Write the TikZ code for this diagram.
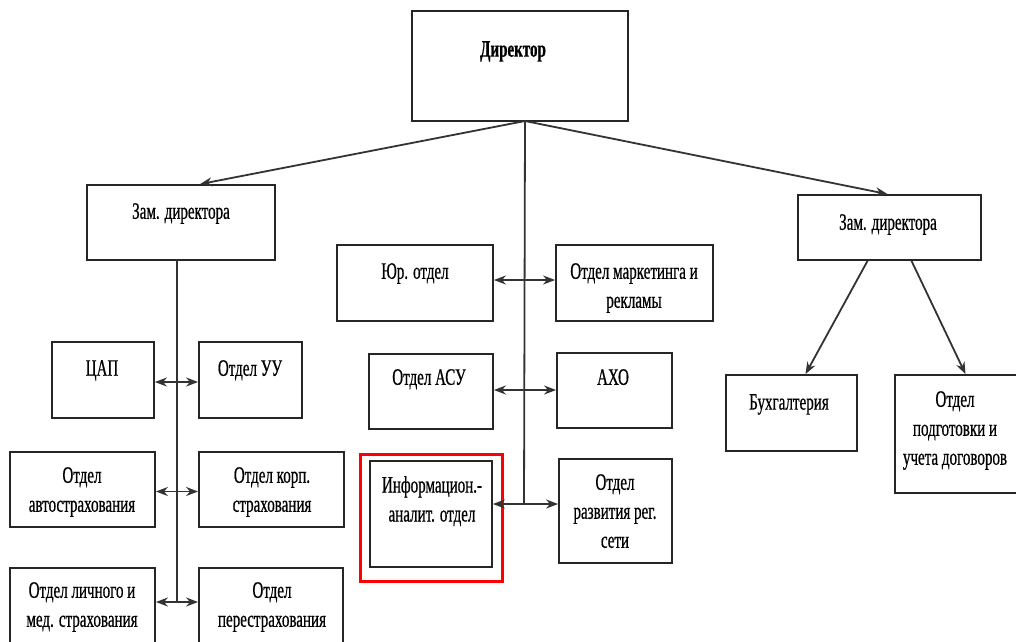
\documentclass[tikz,border=0pt]{standalone}
\usepackage{fontspec}
\setmainfont{Liberation Serif}[FakeStretch=0.64,FakeBold=0.6]
\usetikzlibrary{arrows.meta}
\begin{document}
\begin{tikzpicture}[x=1pt,y=-1pt,
  box/.style={draw=black!85,line width=1.8pt,minimum width=#1,inner sep=0pt},
  lbl/.style={align=center,font=\fontsize{23.5}{29}\selectfont,inner sep=0pt,anchor=north},
  conn/.style={draw=black!80,line width=1.8pt},
  arr/.style={conn,-{Stealth[length=12pt,width=9pt]}},
  dbl/.style={conn,{Stealth[length=12pt,width=9pt]}-{Stealth[length=12pt,width=9pt]}}]
\useasboundingbox (0,0) rectangle (1016,641);
\clip (0,0) rectangle (1016,641);
% boxes
\node[box=216pt,minimum height=110pt] (dir) at (520,66) {};
\node[box=188pt,minimum height=75pt] (zam1) at (181,222.5) {};
\node[box=102pt,minimum height=76pt] (cap) at (103,380) {};
\node[box=103pt,minimum height=76pt] (uu) at (250.5,380) {};
\node[box=145pt,minimum height=75pt] (avto) at (82.5,489.5) {};
\node[box=145pt,minimum height=75pt] (korp) at (271.5,489.5) {};
\node[box=145pt,minimum height=76pt] (lich) at (82.5,606) {};
\node[box=144pt,minimum height=76pt] (pere) at (271,606) {};
\node[box=156pt,minimum height=76pt] (yur) at (415,283) {};
\node[box=157pt,minimum height=76pt] (mark) at (634.5,283) {};
\node[box=124pt,minimum height=75pt] (asu) at (431,391.5) {};
\node[box=115pt,minimum height=75pt] (axo) at (614.5,390.5) {};
\node[draw=red,line width=3.5pt,minimum width=142pt,minimum height=127pt,inner sep=0pt] (frame) at (431.5,518) {};
\node[box=122pt,minimum height=106pt] (info) at (431,514) {};
\node[box=113pt,minimum height=104pt] (razv) at (615.5,511) {};
\node[box=183pt,minimum height=65pt] (zam2) at (889.5,227.5) {};
\node[box=131pt,minimum height=76pt] (buh) at (791.5,413) {};
\node[box=125pt,minimum height=118pt] (podg) at (957.5,434) {};
% labels
\node[lbl,font=\fontsize{23.5}{29}\selectfont\bfseries] (tdir) at (513,41) {Директор};
\node[lbl] (tzam1) at (181,203) {Зам. директора};
\node[lbl] (tcap) at (102,360) {ЦАП};
\node[lbl] (tuu) at (250,360) {Отдел УУ};
\node[lbl] (tavto) at (82,467) {Отдел\\автострахования};
\node[lbl] (tkorp) at (272,467) {Отдел корп.\\страхования};
\node[lbl] (tlich) at (82,582) {Отдел личного и\\мед. страхования};
\node[lbl] (tpere) at (272,582) {Отдел\\перестрахования};
\node[lbl] (tyur) at (415,263) {Юр. отдел};
\node[lbl] (tmark) at (634,263) {Отдел маркетинга и\\рекламы};
\node[lbl] (tasu) at (429,369) {Отдел АСУ};
\node[lbl] (taxo) at (613,369) {АХО};
\node[lbl] (tinfo) at (432,476) {Информацион.-\\аналит. отдел};
\node[lbl] (trazv) at (615,474) {Отдел\\развития рег.\\сети};
\node[lbl] (tzam2) at (888,214) {Зам. директора};
\node[lbl] (tbuh) at (789,394) {Бухгалтерия};
\node[lbl] (tpodg) at (955,391) {Отдел\\подготовки и\\учета договоров};
% connectors
\coordinate (dj) at (525,121);
\coordinate (lx) at (177,260);
\coordinate (lend) at (177,602);
\coordinate (cend) at (524,504);
\coordinate (casu) at (524,390);
\draw[arr] (dj) -- ([xshift=19pt]zam1.north);
\draw[arr] (dj) -- ([xshift=-2pt]zam2.north);
\draw[conn] (dj) -- (cend);
\draw[conn] (lx) -- (lend);
\draw[arr] ([xshift=-22pt]zam2.south) -- ([xshift=14pt]buh.north);
\draw[arr] ([xshift=22pt]zam2.south) -- ([xshift=8pt]podg.north);
\draw[dbl] ([yshift=-2pt]cap.east) -- ([yshift=-2pt]uu.west);
\draw[dbl] ([yshift=-2pt]avto.east) -- ([yshift=-2pt]korp.west);
\draw[dbl] (lich.east |- lend) -- (pere.west |- lend);
\draw[dbl] ([yshift=3pt]yur.east) -- ([yshift=3pt]mark.west);
\draw[dbl] (asu.east |- casu) -- (axo.west |- casu);
\draw[dbl] (info.east |- cend) -- (razv.west |- cend);
\end{tikzpicture}
\end{document}
